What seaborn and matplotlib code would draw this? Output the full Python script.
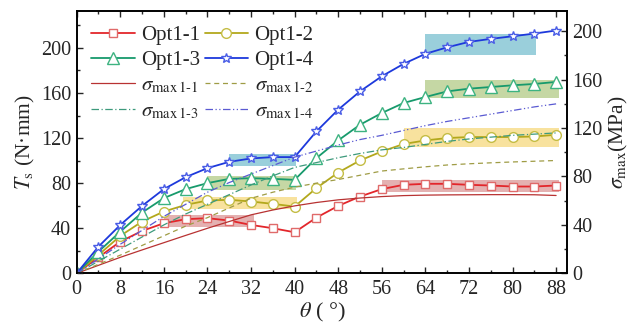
import matplotlib
matplotlib.use("Agg")
import matplotlib.pyplot as plt
import seaborn as sns
from matplotlib.patches import Rectangle
from matplotlib.ticker import MultipleLocator

# angle (deg)
theta = [0, 4, 8, 12, 16, 20, 24, 28, 32, 36, 40, 44, 48, 52, 56, 60, 64, 68, 72, 76, 80, 84, 88]

# Ts (N*mm), left axis
ts_opt1_1 = [0, 14.2, 28.1, 37.6, 44.4, 48.0, 48.9, 46.8, 42.9, 40.0, 36.4, 49.4, 59.8, 68.1, 74.7, 78.5, 79.4, 79.4, 78.5, 77.9, 77.0, 77.0, 77.9]
ts_opt1_2 = [0, 16.3, 33.2, 45.9, 54.8, 60.7, 64.6, 65.2, 63.7, 61.6, 59.2, 75.6, 89.4, 100.1, 108.1, 114.7, 117.9, 120.0, 120.9, 120.9, 120.9, 121.4, 122.9]
ts_opt1_3 = [0, 19.2, 37.0, 53.9, 66.7, 74.7, 80.0, 83.8, 84.4, 83.8, 82.9, 102.2, 117.9, 131.8, 142.2, 151.1, 156.4, 161.4, 163.8, 165.3, 166.8, 168.0, 169.8]
ts_opt1_4 = [0, 23.7, 42.9, 59.8, 74.7, 85.3, 93.3, 98.9, 101.9, 103.1, 103.1, 125.9, 145.2, 161.4, 174.8, 185.8, 194.7, 200.5, 205.3, 208.0, 210.3, 212.7, 215.4]

# sigma_max (MPa), right axis
s_max1_1 = [0, 6.6, 13.2, 19.3, 25.3, 31.3, 37.2, 42.8, 48.3, 52.3, 55.7, 58.5, 60.7, 62.2, 63.4, 64.2, 64.6, 64.8, 64.9, 65.0, 65.0, 64.9, 64.3]
s_max1_2 = [0, 7.5, 15, 23, 31, 39, 46, 54, 62, 67, 71.2, 74.5, 77.5, 81, 84.5, 86.3, 88, 89.5, 90.5, 91.3, 92, 92.6, 93.2]
s_max1_3 = [0, 10, 20, 30, 40, 49, 57, 65, 73, 80.5, 87.5, 91.5, 95.5, 99, 102, 104, 106.5, 109, 111, 112.5, 114, 115, 116]
s_max1_4 = [0, 12, 24, 35.5, 47, 57, 67, 75, 82, 89, 96, 101, 106, 110.5, 114, 118, 122, 125.5, 128.5, 131.5, 134.5, 137.5, 140]

# highlighted ranges: (theta0, theta1, Ts0, Ts1)
bands_red = [(16, 32.5, 41.4, 51.8), (56, 88.5, 72.5, 82.9)]
bands_yellow = [(19.5, 40.5, 56.9, 68.0), (60, 88.5, 112.5, 128.9)]
bands_green = [(24, 40.3, 74.0, 86.5), (64, 88.5, 155.6, 171.8)]
bands_blue = [(28, 40.3, 95.4, 106.0), (64, 84.4, 194.0, 212.4)]

sns.set_style("ticks")
plt.rcParams['font.family'] = ['Liberation Serif', 'DejaVu Serif']
plt.rcParams['mathtext.fontset'] = 'stix'

fig = plt.figure(figsize=(6.36, 3.29), dpi=100)
ax = fig.add_axes([0.1206, 0.1693, 0.7709, 0.7982])
ax2 = ax.twinx()

for bands, col in [(bands_red, '#e2a9a9'), (bands_yellow, '#f8df94'),
                   (bands_green, '#bfd39a'), (bands_blue, '#8fcad8')]:
    for x0, x1, y0, y1 in bands:
        ax.add_patch(Rectangle((x0, y0), x1 - x0, y1 - y0, facecolor=col,
                               edgecolor='none', alpha=0.9, zorder=1))

series = [
    (ts_opt1_1, 'Opt1-1', '#e3262b', '#e06a6a', 's', 5.5),
    (ts_opt1_2, 'Opt1-2', '#b3a81c', '#c4bd45', 'o', 7),
    (ts_opt1_3, 'Opt1-3', '#179a6c', '#3db381', '^', 8),
    (ts_opt1_4, 'Opt1-4', '#1d39dc', '#4a5de6', '*', 7.5),
]
for vals, lab, lc, mc, mk, ms in series:
    sns.lineplot(x=theta, y=vals, ax=ax, color=lc, lw=1.3, marker=mk, markersize=ms,
                 markerfacecolor='white', markeredgecolor=mc, markeredgewidth=1.0,
                 label=lab, zorder=3)

sigmas = [
    (s_max1_1, r'$\sigma_{\mathrm{max\,1\text{-}1}}$', '#b83232', '-'),
    (s_max1_2, r'$\sigma_{\mathrm{max\,1\text{-}2}}$', '#9f9c45', (0, (4, 3))),
    (s_max1_3, r'$\sigma_{\mathrm{max\,1\text{-}3}}$', '#3d9a7c', (0, (6, 2, 1, 2))),
    (s_max1_4, r'$\sigma_{\mathrm{max\,1\text{-}4}}$', '#5a5ad2', (0, (6, 2, 1, 2, 1, 2))),
]
for vals, lab, lc, ls in sigmas:
    sns.lineplot(x=theta, y=vals, ax=ax2, color=lc, lw=0.9, linestyle=ls, label=lab, zorder=2)

ax.set_xlim(0, 90)
ax.set_ylim(0, 233)
ax2.set_ylim(0, 217)
ax.xaxis.set_major_locator(MultipleLocator(8))
ax.xaxis.set_minor_locator(MultipleLocator(4))
ax.yaxis.set_major_locator(MultipleLocator(40))
ax.yaxis.set_minor_locator(MultipleLocator(20))
ax2.yaxis.set_major_locator(MultipleLocator(40))
ax2.yaxis.set_minor_locator(MultipleLocator(20))

ax.tick_params(axis='x', which='both', direction='in', top=True, labelsize=14.5, pad=5)
ax.tick_params(axis='y', which='both', direction='in', labelsize=14.5, pad=4)
ax2.tick_params(axis='y', which='both', direction='in', labelsize=14.5, pad=4)
for a in (ax, ax2):
    a.tick_params(which='major', length=4, width=1.0)
    a.tick_params(which='minor', length=2.5, width=1.0)
    for s in a.spines.values():
        s.set_linewidth(1.2)
        s.set_color('black')

ax.set_xlabel(r'$\theta$ ( °)', fontsize=16, labelpad=1)
ax.set_ylabel(r'$T_{\mathrm{s}}$ (N·mm)', fontsize=15.5, labelpad=3)
ax2.set_ylabel(r'$\sigma_{\mathrm{max}}$(MPa)', fontsize=15.5, labelpad=3)

h1, l1 = ax.get_legend_handles_labels()
h2, l2 = ax2.get_legend_handles_labels()
if ax2.get_legend() is not None:
    ax2.get_legend().remove()
hs = h1 + h2
ls_ = l1 + l2
order = [0, 2, 4, 6, 1, 3, 5, 7]  # row-wise reading with ncol=2
ax.legend([hs[i] for i in order], [ls_[i] for i in order], ncol=2, loc='upper left',
          bbox_to_anchor=(0.0, 1.0), frameon=False, fontsize=15, handlelength=2.1,
          handletextpad=0.3, columnspacing=0.2, labelspacing=0.28, borderaxespad=0.3)

fig.savefig('out.png', dpi=100)
